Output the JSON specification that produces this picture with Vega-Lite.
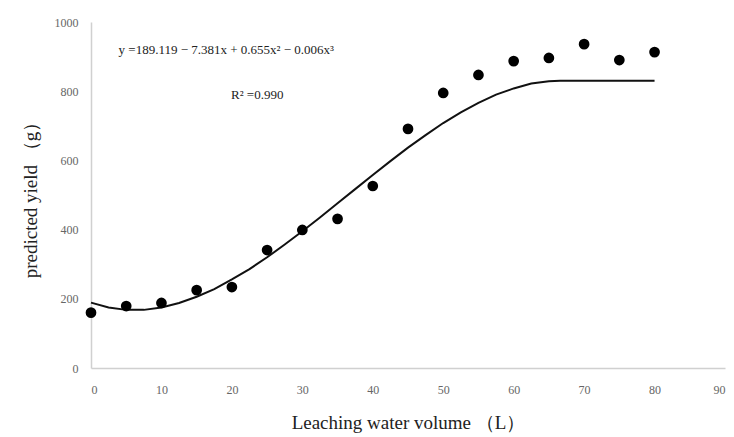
{
  "$schema": "https://vega.github.io/schema/vega-lite/v6.json",
  "width": 634,
  "height": 346,
  "autosize": "none",
  "padding": {"left": 91, "top": 22, "right": 9, "bottom": 69},
  "background": "white",
  "config": {
    "view": {"stroke": null},
    "font": "Liberation Serif",
    "axis": {
      "grid": false,
      "ticks": false,
      "domainColor": "#d0d0d0",
      "domainWidth": 1.5,
      "labelColor": "#666666",
      "labelFont": "Liberation Serif",
      "labelFontSize": 12,
      "titleFont": "Liberation Serif",
      "titleFontSize": 19,
      "titleFontWeight": "normal",
      "titleColor": "#222222"
    }
  },
  "datasets": {
    "obs": [
      {"x": 0, "y": 160}, {"x": 5, "y": 179}, {"x": 10, "y": 188}, {"x": 15, "y": 225},
      {"x": 20, "y": 234}, {"x": 25, "y": 341}, {"x": 30, "y": 399}, {"x": 35, "y": 431},
      {"x": 40, "y": 526}, {"x": 45, "y": 691}, {"x": 50, "y": 795}, {"x": 55, "y": 847},
      {"x": 60, "y": 887}, {"x": 65, "y": 896}, {"x": 70, "y": 936}, {"x": 75, "y": 890},
      {"x": 80, "y": 913}
    ],
    "fit": [
      {"x": 0, "y": 189}, {"x": 2.5, "y": 175}, {"x": 5, "y": 168}, {"x": 7.5, "y": 168},
      {"x": 10, "y": 175}, {"x": 12.5, "y": 188}, {"x": 15, "y": 206}, {"x": 17.5, "y": 228},
      {"x": 20, "y": 256}, {"x": 22.5, "y": 286}, {"x": 25, "y": 320}, {"x": 27.5, "y": 357},
      {"x": 30, "y": 395}, {"x": 32.5, "y": 435}, {"x": 35, "y": 476}, {"x": 37.5, "y": 517},
      {"x": 40, "y": 558}, {"x": 42.5, "y": 598}, {"x": 45, "y": 637}, {"x": 47.5, "y": 673},
      {"x": 50, "y": 708}, {"x": 52.5, "y": 739}, {"x": 55, "y": 766}, {"x": 57.5, "y": 790},
      {"x": 60, "y": 808}, {"x": 62.5, "y": 822}, {"x": 65, "y": 829}, {"x": 66.6, "y": 830},
      {"x": 70, "y": 830}, {"x": 75, "y": 830}, {"x": 80, "y": 830}
    ],
    "notes": [
      {"x": 19.2, "y": 919, "label": "y =189.119 − 7.381x + 0.655x² − 0.006x³"},
      {"x": 23.6, "y": 789, "label": "R² =0.990"}
    ]
  },
  "layer": [
    {
      "data": {"name": "fit"},
      "mark": {"type": "line", "color": "#111111", "strokeWidth": 2},
      "encoding": {
        "x": {"field": "x", "type": "quantitative",
              "scale": {"domain": [0, 90], "nice": false},
              "axis": {"values": [0,10,20,30,40,50,60,70,80,90], "labelPadding": 16, "title": "Leaching water volume （L）", "titlePadding": 18}},
        "y": {"field": "y", "type": "quantitative",
              "scale": {"domain": [0, 1000], "nice": false},
              "axis": {"values": [0,200,400,600,800,1000], "format": "d", "labelPadding": 13, "title": "predicted yield （g）", "titlePadding": 14}}
      }
    },
    {
      "data": {"name": "obs"},
      "mark": {"type": "point", "filled": true, "color": "#000000", "size": 115, "opacity": 1},
      "encoding": {
        "x": {"field": "x", "type": "quantitative"},
        "y": {"field": "y", "type": "quantitative"}
      }
    },
    {
      "data": {"name": "notes"},
      "mark": {"type": "text", "font": "Liberation Serif", "fontSize": 13, "color": "#222222", "align": "center", "baseline": "middle"},
      "encoding": {
        "x": {"field": "x", "type": "quantitative"},
        "y": {"field": "y", "type": "quantitative"},
        "text": {"field": "label"}
      }
    }
  ]
}
